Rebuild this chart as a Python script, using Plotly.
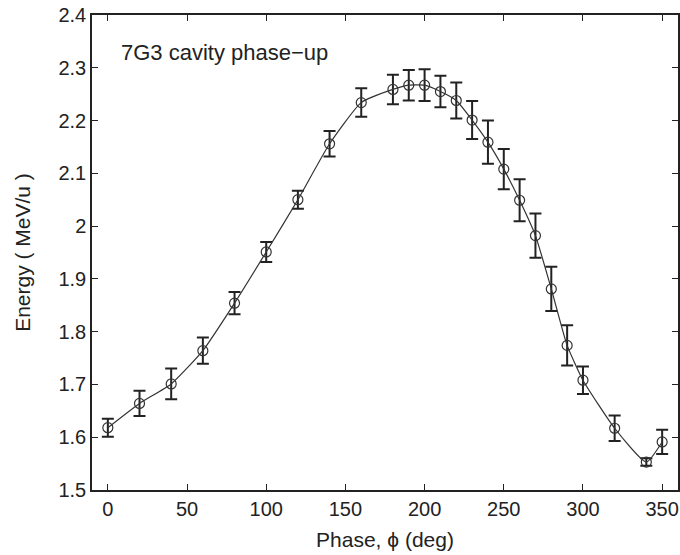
import plotly.graph_objects as go

phase = [0, 20, 40, 60, 80, 100, 120, 140, 160, 180, 190, 200, 210, 220, 230,
         240, 250, 260, 270, 280, 290, 300, 320, 340, 350]
energy = [1.618, 1.664, 1.701, 1.764, 1.854, 1.951, 2.050, 2.156, 2.234, 2.259,
          2.267, 2.267, 2.255, 2.238, 2.201, 2.159, 2.108, 2.049, 1.982, 1.881,
          1.774, 1.708, 1.617, 1.553, 1.591]
err = [0.017, 0.024, 0.029, 0.025, 0.021, 0.019, 0.017, 0.024, 0.027, 0.028,
       0.029, 0.030, 0.030, 0.034, 0.036, 0.041, 0.038, 0.040, 0.042, 0.042,
       0.038, 0.026, 0.024, 0.007, 0.023]
x_ticks = [0, 50, 100, 150, 200, 250, 300, 350]
y_ticks = [1.5, 1.6, 1.7, 1.8, 1.9, 2.0, 2.1, 2.2, 2.3, 2.4]
y_tick_text = ["1.5", "1.6", "1.7", "1.8", "1.9", "2", "2.1", "2.2", "2.3", "2.4"]

FONT = "Liberation Sans, Arial, sans-serif"

fig = go.Figure()
fig.add_trace(go.Scatter(
    x=phase, y=energy,
    mode="lines+markers",
    line=dict(color="#333333", width=1.2, shape="spline", smoothing=0.5),
    marker=dict(symbol="circle-open", size=10, color="#333333", line=dict(width=1.2)),
    error_y=dict(type="data", array=err, visible=True, color="#222222",
                 thickness=2, width=6),
    showlegend=False,
))

axis_common = dict(
    showline=True, linecolor="#222222", linewidth=1.5, mirror="ticks",
    ticks="inside", ticklen=6, tickcolor="#222222", tickwidth=1.2,
    showgrid=False, zeroline=False, automargin=False,
    ticklabeloverflow="allow",
    tickfont=dict(family=FONT, size=20, color="#222222"),
)

fig.update_xaxes(range=[-10, 360], tickvals=x_ticks,
                 title=dict(text="Phase, \u03d5 (deg)", font=dict(family=FONT, size=21, color="#222222"),
                            standoff=14),
                 **axis_common)
fig.update_yaxes(range=[1.5, 2.4], tickvals=y_ticks, ticktext=y_tick_text,
                 title=dict(text="Energy ( MeV/u )", font=dict(family=FONT, size=21, color="#222222"),
                            standoff=22),
                 **axis_common)

fig.add_annotation(
    x=0.046, y=0.922, xref="paper", yref="paper",
    xanchor="left", yanchor="middle", showarrow=False,
    text="7G3 cavity phase\u2212up",
    font=dict(family=FONT, size=22, color="#222222"),
)

fig.update_layout(
    width=680, height=555,
    margin=dict(l=92, r=2, t=15, b=65),
    paper_bgcolor="white", plot_bgcolor="white",
)

fig.write_html(
    "out.html",
    config={"displayModeBar": False},
    post_script="document.body.style.margin='0';document.body.style.overflow='hidden';",
)
